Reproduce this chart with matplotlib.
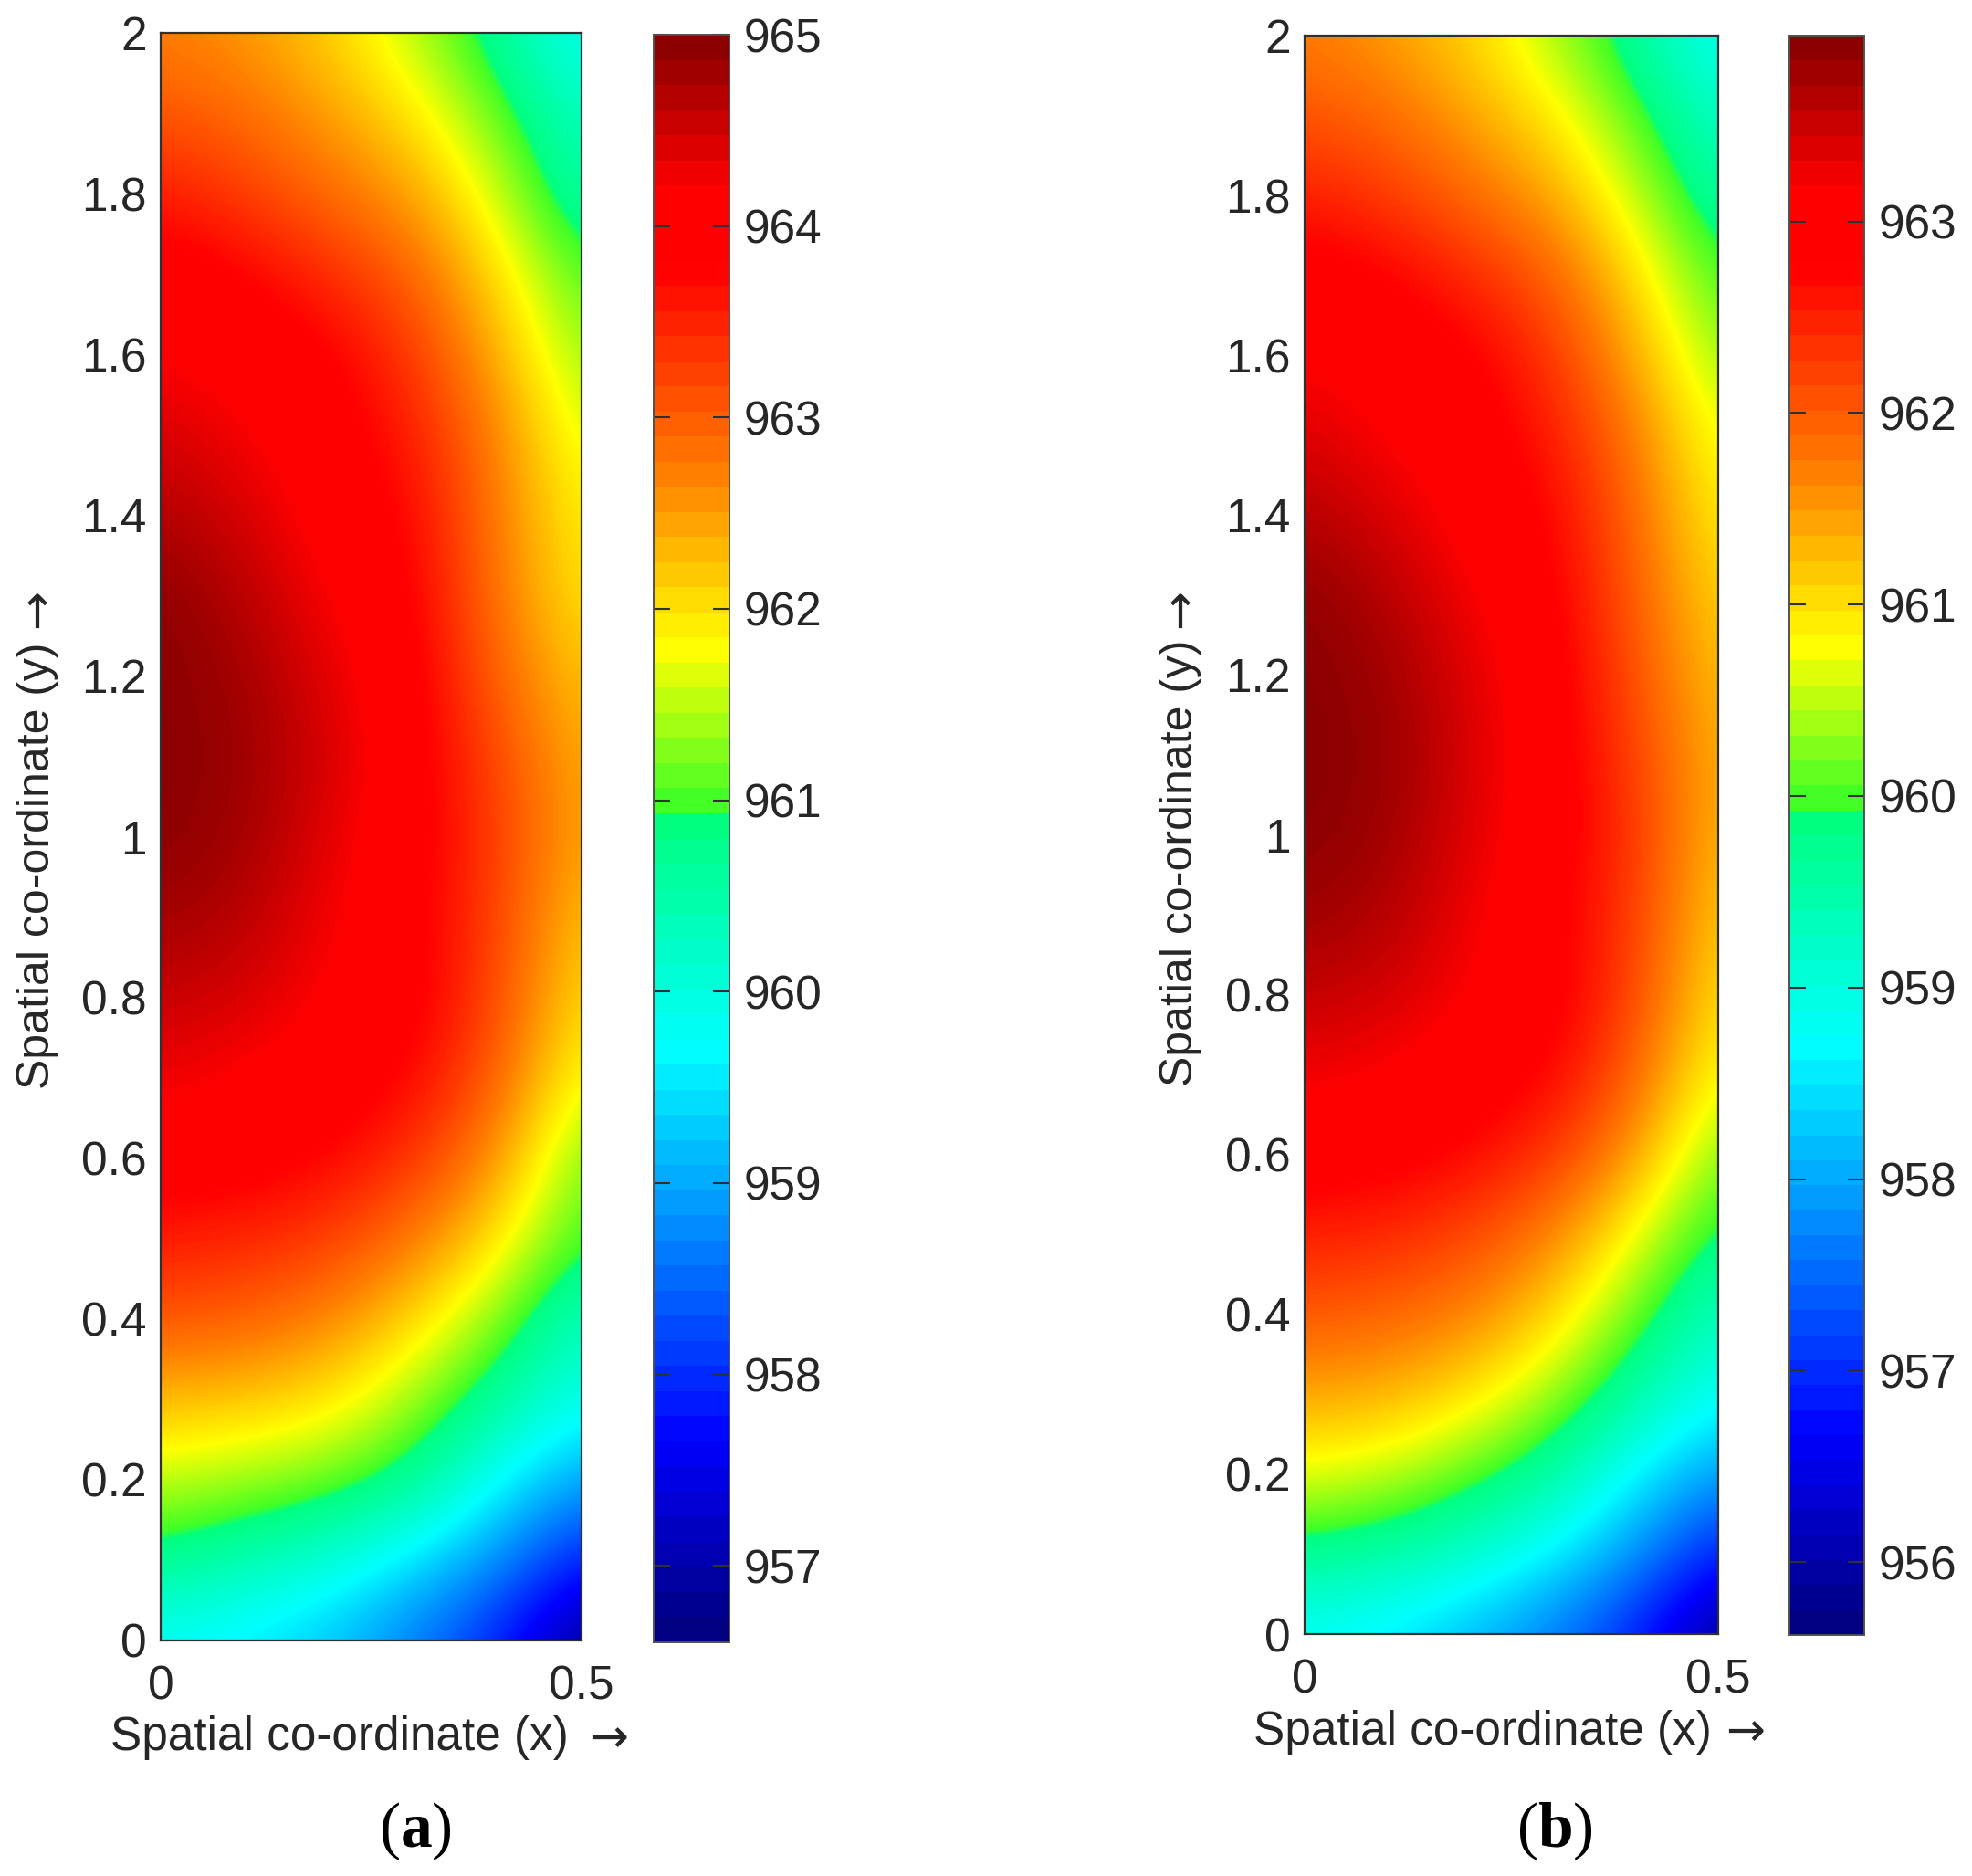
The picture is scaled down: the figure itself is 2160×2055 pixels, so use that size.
#!/usr/bin/env python3
"""Two temperature maps over the same half-domain, with jet-like colorbars."""

import matplotlib
matplotlib.use("Agg")
import matplotlib.pyplot as plt
import numpy as np
from matplotlib.cm import ScalarMappable
from matplotlib.colors import LinearSegmentedColormap, Normalize

WIDTH, HEIGHT = 2160, 2055

x_nodes = [0.0, 0.1, 0.2, 0.3, 0.4, 0.5]
y_nodes = [0.0, 0.1, 0.2, 0.3, 0.4, 0.5, 0.6, 0.7, 0.8, 0.9, 1.0,
           1.1, 1.2, 1.3, 1.4, 1.5, 1.6, 1.7, 1.8, 1.9, 2.0]

# one row per y_nodes entry (bottom to top)
temps_a = [
    [959.7, 959.5, 959.2, 958.6, 957.85, 956.7],
    [960.75, 960.4, 960.05, 959.45, 958.8, 957.8],
    [961.55, 961.4, 961.2, 960.75, 959.7, 958.9],
    [962.3, 962.2, 962.0, 961.4, 960.6, 959.85],
    [963.1, 963.0, 962.7, 962.1, 961.3, 960.2],
    [963.6, 963.5, 963.3, 962.8, 962.0, 960.95],
    [964.05, 964.0, 963.8, 963.4, 962.6, 961.15],
    [964.35, 964.2, 964.05, 963.8, 963.0, 961.7],
    [964.6, 964.5, 964.2, 964.0, 963.2, 962.0],
    [964.85, 964.7, 964.3, 963.95, 963.25, 962.2],
    [965.0, 964.85, 964.4, 964.0, 963.3, 962.4],
    [965.0, 964.9, 964.5, 964.0, 963.2, 962.35],
    [965.0, 964.85, 964.4, 964.0, 962.95, 962.2],
    [965.0, 964.7, 964.25, 963.9, 962.8, 961.95],
    [964.75, 964.5, 964.1, 963.8, 962.75, 961.85],
    [964.5, 964.3, 964.0, 963.6, 962.7, 961.6],
    [964.25, 964.1, 963.9, 963.35, 962.4, 961.3],
    [964.05, 963.85, 963.45, 963.0, 962.05, 961.0],
    [963.6, 963.3, 962.9, 962.5, 961.6, 960.45],
    [963.1, 962.9, 962.5, 962.0, 961.15, 960.2],
    [962.75, 962.55, 962.15, 961.5, 960.65, 959.75],
]
temps_b = [
    [958.7, 958.5, 958.1, 957.6, 956.85, 955.75],
    [959.7, 959.5, 959.15, 958.6, 957.85, 956.8],
    [960.7, 960.55, 960.1, 959.55, 958.6, 957.85],
    [961.45, 961.35, 961.0, 960.4, 959.5, 958.75],
    [962.05, 961.95, 961.7, 961.1, 960.15, 959.2],
    [962.55, 962.45, 962.2, 961.7, 960.75, 959.75],
    [963.0, 962.95, 962.75, 962.35, 961.5, 960.2],
    [963.3, 963.2, 963.0, 962.8, 961.95, 960.7],
    [963.6, 963.5, 963.2, 963.0, 962.2, 960.95],
    [963.85, 963.7, 963.3, 962.9, 962.3, 961.1],
    [963.97, 963.85, 963.4, 963.0, 962.35, 961.25],
    [963.97, 963.9, 963.45, 963.0, 962.25, 961.3],
    [963.97, 963.85, 963.4, 963.0, 962.1, 961.2],
    [963.95, 963.7, 963.25, 962.9, 962.0, 961.05],
    [963.7, 963.45, 963.1, 962.8, 961.9, 960.85],
    [963.45, 963.2, 963.0, 962.6, 961.75, 960.65],
    [963.2, 963.05, 962.9, 962.35, 961.4, 960.3],
    [963.0, 962.85, 962.45, 962.0, 961.05, 959.95],
    [962.55, 962.3, 961.9, 961.45, 960.55, 959.5],
    [962.1, 961.9, 961.45, 960.95, 960.1, 959.15],
    [961.75, 961.5, 961.1, 960.45, 959.6, 958.75],
]

range_a = (956.6, 965.0)
range_b = (955.62, 963.97)
cbar_ticks_a = [957, 958, 959, 960, 961, 962, 963, 964, 965]
cbar_ticks_b = [956, 957, 958, 959, 960, 961, 962, 963]
y_ticks = [0, 0.2, 0.4, 0.6, 0.8, 1, 1.2, 1.4, 1.6, 1.8, 2]
x_ticks = [0, 0.5]

plt.rcParams["font.family"] = ["Liberation Sans", "DejaVu Sans"]
plt.rcParams["mathtext.fontset"] = "custom"
plt.rcParams["mathtext.rm"] = "Liberation Serif"
plt.rcParams["mathtext.bf"] = "Liberation Serif:bold"

INK = "#262626"
FONT = 37

# the source image has a harder, more saturated jet than matplotlib's
JET_STOPS = [
    (0.0, (0, 0, 0.5)), (0.12, (0, 0, 1)), (0.366, (0, 1, 1)), (0.51, (0, 1, 0.5)),
    (0.522, (0.25, 1, 0.15)), (0.62, (1, 1, 0)), (0.73, (1, 0.5, 0)), (0.86, (1, 0, 0)),
    (0.91, (1, 0, 0)), (1.0, (0.55, 0, 0)),
]


def px_axes(fig, left, top, right, bottom):
    return fig.add_axes([left / WIDTH, 1 - bottom / HEIGHT,
                         (right - left) / WIDTH, (bottom - top) / HEIGHT])


def put_text(fig, x, y, text, **kwargs):
    kwargs.setdefault("color", INK)
    kwargs.setdefault("fontsize", FONT)
    fig.text(x / WIDTH, 1 - y / HEIGHT, text, **kwargs)


def draw_panel(fig, temps, limits, cbar_ticks, box, cbar_box):
    smooth = LinearSegmentedColormap.from_list("hard_jet", JET_STOPS, N=256)
    banded = LinearSegmentedColormap.from_list("hard_jet64", JET_STOPS, N=64)

    ax = px_axes(fig, *box)
    dx = (x_nodes[1] - x_nodes[0]) / 2
    dy = (y_nodes[1] - y_nodes[0]) / 2
    ax.imshow(np.array(temps), origin="lower", aspect="auto",
              cmap=smooth, vmin=limits[0], vmax=limits[1],
              interpolation="bicubic",
              extent=[x_nodes[0] - dx, x_nodes[-1] + dx, y_nodes[0] - dy, y_nodes[-1] + dy])
    ax.set_xlim(0, 0.5)
    ax.set_ylim(0, 2)
    ax.set_xticks(x_ticks, ["0", "0.5"])
    ax.set_yticks(y_ticks, [f"{t:g}" for t in y_ticks])
    ax.tick_params(axis="x", length=0, pad=19, labelsize=FONT, labelcolor=INK)
    ax.tick_params(axis="y", length=0, pad=11, labelsize=FONT, labelcolor=INK)
    for spine in ax.spines.values():
        spine.set_linewidth(1.6)
        spine.set_color("#303030")

    cax = px_axes(fig, *cbar_box)
    mappable = ScalarMappable(Normalize(*limits), banded)
    cbar = fig.colorbar(mappable, cax=cax, ticks=cbar_ticks)
    cbar.ax.tick_params(axis="y", direction="in", left=True, right=True, length=13,
                        width=1.5, color="#303030", pad=11, labelsize=FONT, labelcolor=INK)
    cbar.outline.set_linewidth(1.4)
    cbar.outline.set_edgecolor("#505050")


def main():
    fig = plt.figure(figsize=(WIDTH / 100, HEIGHT / 100), dpi=100)

    draw_panel(fig, temps_a, range_a, cbar_ticks_a, (176, 36, 637, 1797), (716, 38, 799, 1799))
    put_text(fig, 121, 1904, "Spatial co-ordinate (x)", ha="left", va="center")
    put_text(fig, 667, 1905, "\u2192", ha="center", va="center", family="DejaVu Sans")
    put_text(fig, 41, 1193, "Spatial co-ordinate (y)", rotation=90, ha="center", va="bottom", fontsize=36)
    put_text(fig, 41, 667, "\u2192", rotation=90, ha="center", va="center", family="DejaVu Sans")
    put_text(fig, 455, 2006, r"($\mathbf{a}$)", ha="center", va="center",
             fontsize=50, color="black", family="Liberation Serif")

    draw_panel(fig, temps_b, range_b, cbar_ticks_b, (1429, 39, 1882, 1790), (1960, 39, 2042, 1791))
    put_text(fig, 1373, 1897, "Spatial co-ordinate (x)", ha="left", va="center")
    put_text(fig, 1912, 1898, "\u2192", ha="center", va="center", family="DejaVu Sans")
    put_text(fig, 1293, 1190, "Spatial co-ordinate (y)", rotation=90, ha="center", va="bottom", fontsize=36)
    put_text(fig, 1293, 667, "\u2192", rotation=90, ha="center", va="center", family="DejaVu Sans")
    put_text(fig, 1703, 2006, r"($\mathbf{b}$)", ha="center", va="center",
             fontsize=50, color="black", family="Liberation Serif")

    fig.savefig("out.png", dpi=100)


if __name__ == "__main__":
    main()
